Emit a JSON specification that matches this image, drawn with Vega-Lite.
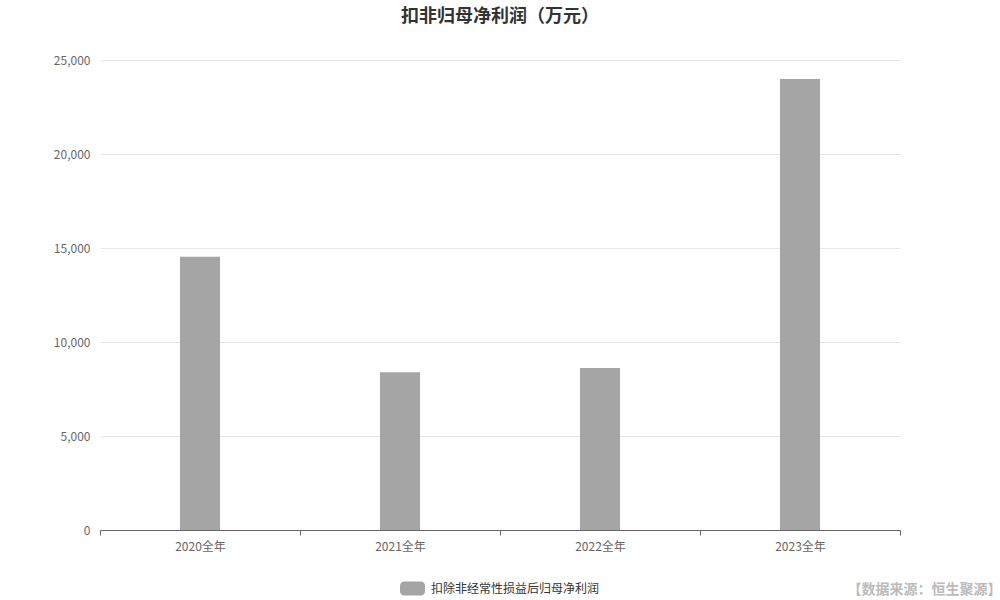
{
  "$schema": "https://vega.github.io/schema/vega-lite/v6.json",
  "width": 800,
  "height": 470,
  "autosize": {"type": "none"},
  "padding": {"left": 100, "top": 60, "right": 100, "bottom": 70},
  "background": "#ffffff",
  "title": {
    "text": "扣非归母净利润（万元）",
    "font": "Noto Sans CJK SC",
    "fontSize": 18,
    "fontWeight": "bold",
    "color": "#333333",
    "anchor": "middle",
    "frame": "group",
    "offset": 28
  },
  "data": {
    "values": [
      {"period": "2020全年", "value": 14540, "series": "扣除非经常性损益后归母净利润"},
      {"period": "2021全年", "value": 8390, "series": "扣除非经常性损益后归母净利润"},
      {"period": "2022全年", "value": 8620, "series": "扣除非经常性损益后归母净利润"},
      {"period": "2023全年", "value": 23990, "series": "扣除非经常性损益后归母净利润"}
    ]
  },
  "mark": {"type": "bar", "size": 40},
  "encoding": {
    "x": {
      "field": "period",
      "type": "nominal",
      "sort": null,
      "scale": {"paddingInner": 0, "paddingOuter": 0},
      "axis": {
        "title": "【数据来源：恒生聚源】",
        "titleX": 901,
        "titleY": 59,
        "titleAlign": "right",
        "titleAnchor": null,
        "titleBaseline": "middle",
        "titleColor": "#bbbbbb",
        "titleFont": "Noto Sans CJK SC",
        "titleFontSize": 14,
        "titleFontWeight": "bold",
        "labelAngle": 0,
        "labelFont": "Noto Sans CJK SC",
        "labelFontSize": 12,
        "labelColor": "#666666",
        "labelPadding": 6,
        "tickBand": "extent",
        "tickColor": "#666666",
        "tickSize": 5,
        "domainColor": "#666666",
        "grid": false
      }
    },
    "y": {
      "field": "value",
      "type": "quantitative",
      "scale": {"domain": [0, 25000]},
      "axis": {
        "title": null,
        "values": [0, 5000, 10000, 15000, 20000, 25000],
        "format": ",d",
        "domain": false,
        "ticks": false,
        "labelPadding": 10,
        "labelFont": "Noto Sans CJK SC",
        "labelFontSize": 12,
        "labelColor": "#666666",
        "gridColor": "#e6e6e6"
      }
    },
    "color": {
      "field": "series",
      "type": "nominal",
      "scale": {"range": ["#a5a5a5"]},
      "legend": {
        "title": null,
        "orient": "none",
        "legendX": 300,
        "legendY": 516,
        "direction": "horizontal",
        "symbolType": "M-0.68,-0.56H0.68A0.32,0.32 0 0 1 1,-0.24V0.24A0.32,0.32 0 0 1 0.68,0.56H-0.68A0.32,0.32 0 0 1 -1,0.24V-0.24A0.32,0.32 0 0 1 -0.68,-0.56Z",
        "symbolSize": 625,
        "symbolStrokeWidth": 0,
        "symbolOpacity": 1,
        "labelFont": "Noto Sans CJK SC",
        "labelFontSize": 12,
        "labelColor": "#333333",
        "labelLimit": 400,
        "labelOffset": 6
      }
    }
  },
  "config": {
    "view": {"stroke": null}
  }
}
